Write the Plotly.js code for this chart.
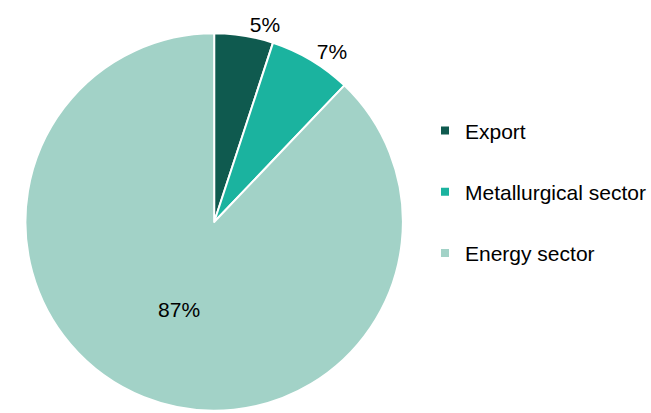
<!DOCTYPE html>
<html>
<head>
<meta charset="utf-8">
<script src="https://cdn.plot.ly/plotly-3.0.1.min.js"></script>
<style>html,body{margin:0;padding:0;background:#fff;}#chart{width:651px;height:413px;}</style>
</head>
<body>
<div id="chart"></div>
<script>
const categories = ['Export', 'Metallurgical sector', 'Energy sector'];
const shares = [5, 7, 87];
const shareLabels = ['5%', '7%', '87%'];
const colors = ['#0f5a4f', '#1bb39f', '#a2d2c7'];

const FONT = 'Liberation Sans, Arial, sans-serif';

const pie = {
  type: 'pie',
  labels: categories,
  values: shares,
  text: shareLabels,
  textinfo: 'text',
  textposition: ['outside', 'outside', 'inside'],
  insidetextorientation: 'horizontal',
  sort: false,
  direction: 'clockwise',
  rotation: 0,
  marker: {colors: colors, line: {color: '#ffffff', width: 2}},
  textfont: {family: FONT, size: 21, color: '#000'},
  outsidetextfont: {family: FONT, size: 21, color: '#000'},
  insidetextfont: {family: FONT, size: 21, color: '#000'},
  domain: {x: [0.0393, 0.6227], y: [0.0048, 0.9202]},
  showlegend: false,
  hoverinfo: 'label+percent'
};

const legendTraces = categories.map((c, i) => ({
  type: 'scatter', mode: 'markers', x: [null], y: [null], name: c,
  legendgroup: 'g' + i,
  marker: {symbol: 'square', size: 8, color: colors[i]},
  showlegend: true, hoverinfo: 'skip'
}));

const layout = {
  width: 651, height: 413,
  margin: {l: 0, r: 0, t: 0, b: 0},
  paper_bgcolor: '#fff', plot_bgcolor: 'rgba(0,0,0,0)',
  xaxis: {visible: false, domain: [0.7, 0.71]},
  yaxis: {visible: false},
  showlegend: true,
  legend: {
    x: 0.657, y: 0.733, xanchor: 'left', yanchor: 'top',
    font: {family: FONT, size: 21, color: '#000'},
    tracegroupgap: 31, itemclick: false, bgcolor: 'rgba(0,0,0,0)'
  }
};

Plotly.newPlot('chart', [pie, ...legendTraces], layout, {displayModeBar: false, staticPlot: true});
</script>
</body>
</html>
